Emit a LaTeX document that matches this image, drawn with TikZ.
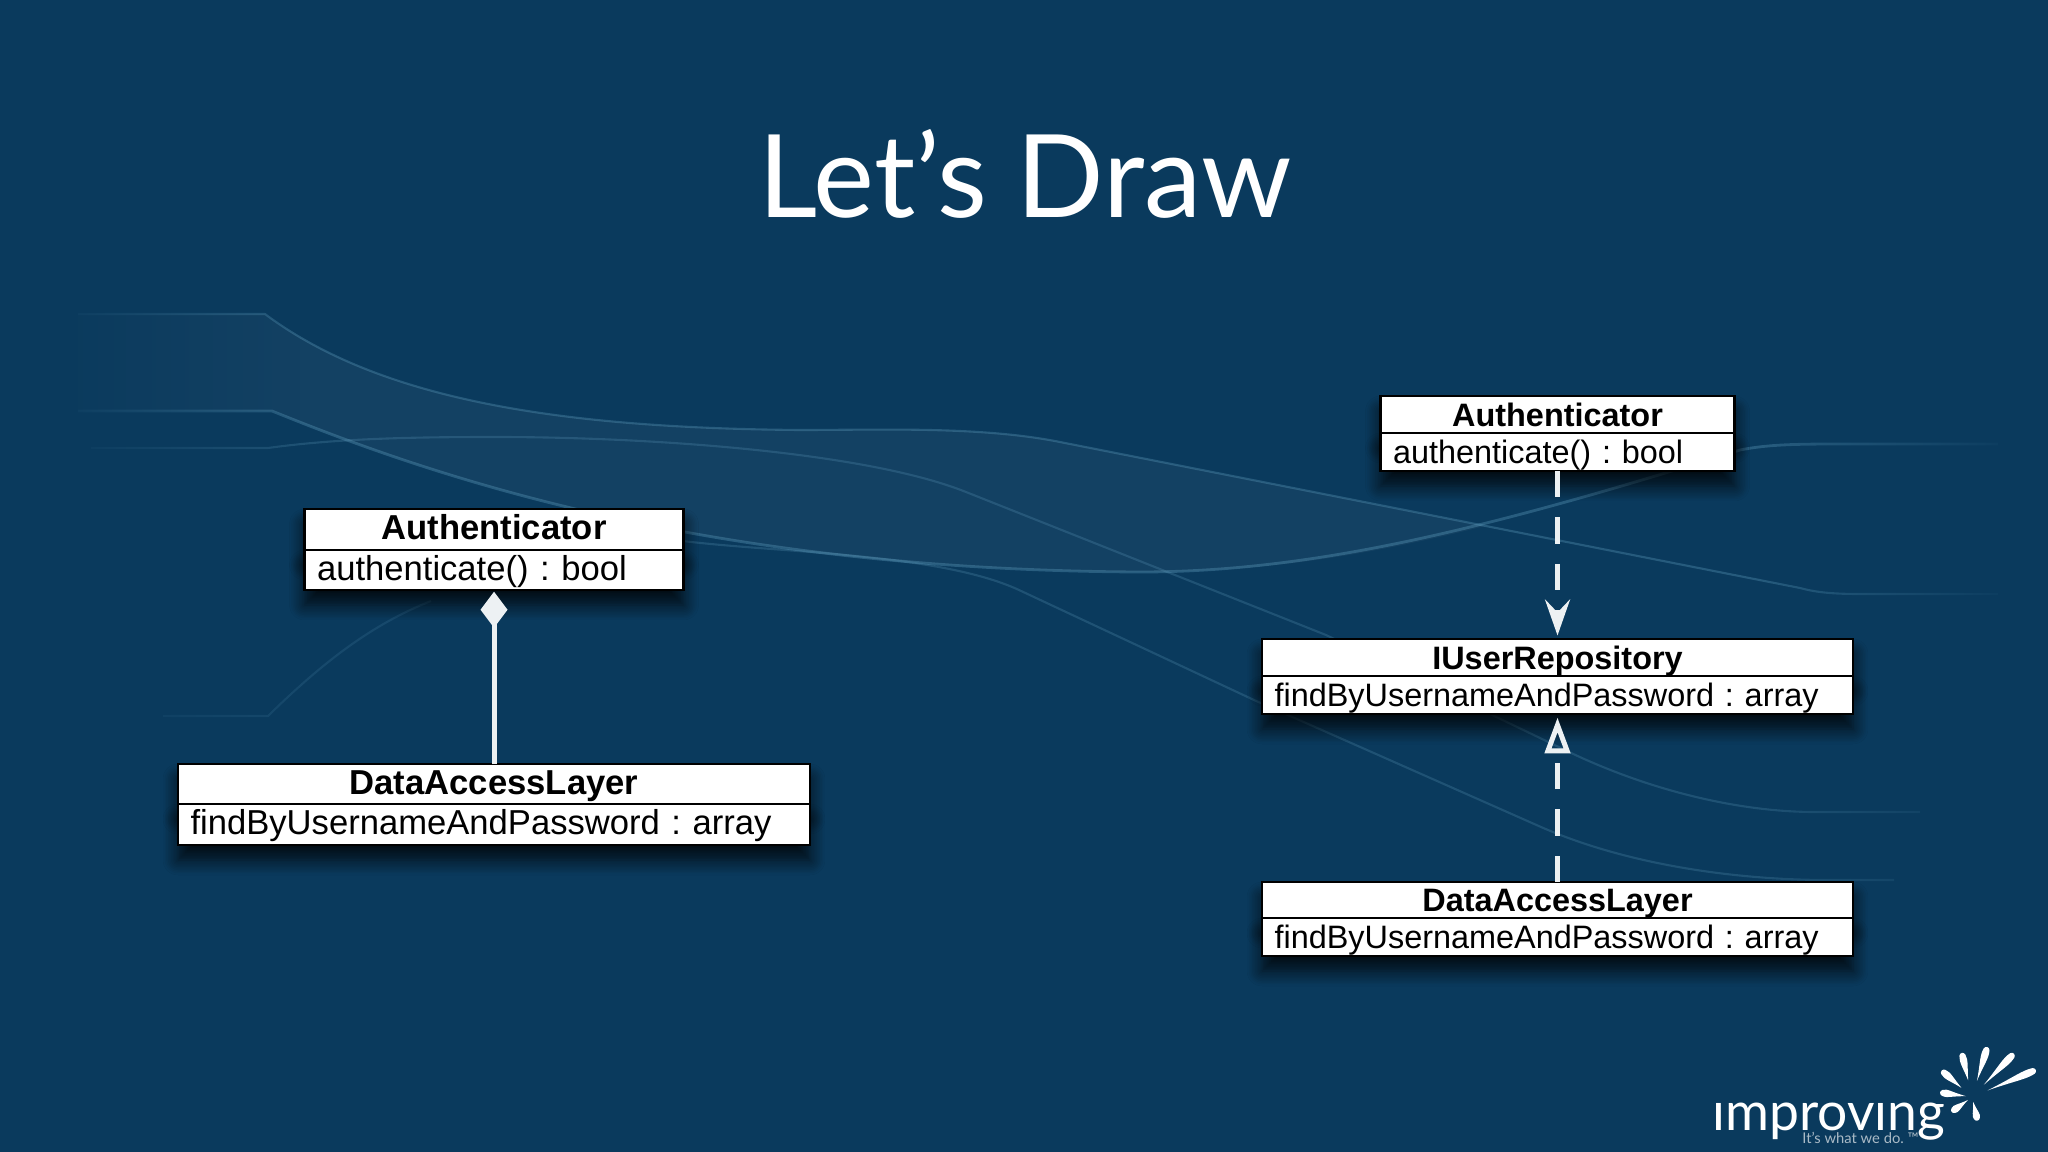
\documentclass[tikz,border=0pt]{standalone}
\usepackage{fontspec}
\setmainfont{Liberation Sans}
\newfontfamily\titlefont{Lato}
\usetikzlibrary{positioning,arrows.meta,shadows.blur,fadings}
\frenchspacing

\definecolor{slidebg}{HTML}{0A3A5D}
\definecolor{swoosh}{HTML}{6AA8C8}
\definecolor{umlline}{HTML}{EDF1F3}

\tikzset{
    classbox/.style={draw=black, fill=white, rectangle, line width=1.5pt, outer sep=0pt, text=black,
        blur shadow={shadow xshift=0pt, shadow yshift=-0.3cm, shadow blur radius=0.3cm, shadow blur steps=10, shadow opacity=80}},
    classhead/.style={classbox, inner sep=0pt, align=center, font=\fontsize{#1}{24}\selectfont\bfseries},
    classbody/.style={classbox, inner xsep=0.25cm, inner ysep=0pt, align=left, font=\fontsize{#1}{24}\selectfont},
    bigtext/.style={text height=0.54cm, text depth=0.13cm},
    smalltext/.style={text height=0.58cm, text depth=0.11cm},
    swooshline/.style={draw=swoosh, line width=1.2pt, opacity=0.3},
    umlarrow/.style={draw=umlline, line width=0.1cm},
    umldash/.style={umlarrow, dash pattern=on 0.53cm off 0.4cm}
}

\begin{document}
\begin{tikzpicture}[x=0.02cm, y=-0.02cm]
    % Slide background
    \fill[slidebg] (0,0) rectangle (2048,1152);
    \useasboundingbox (0,0) rectangle (2048,1152);

    % Swooshes behind the boxes
    \fill[white, opacity=0.04] (78,314) -- (265,314) .. controls (380,400) and (560,428) .. (800,430)
        .. controls (880,430) and (980,426) .. (1060,442) -- (1485,526)
        .. controls (1350,560) and (1250,572) .. (1140,572) .. controls (700,570) and (430,475) .. (272,411) -- (78,411) -- cycle;
    \draw[swooshline] (78,314) -- (265,314) .. controls (380,400) and (560,428) .. (800,430)
        .. controls (880,430) and (980,426) .. (1060,442) -- (1800,588) .. controls (1815,592) and (1830,594) .. (1860,594) -- (1998,594);
    \draw[swooshline, line width=1.6pt, opacity=0.32] (78,411) -- (272,411) .. controls (430,475) and (700,570) .. (1140,572)
        .. controls (1320,572) and (1500,525) .. (1740,450) .. controls (1770,444) and (1800,444) .. (1850,444) -- (1998,444);
    \draw[swooshline, opacity=0.22] (91,448) -- (268,448) .. controls (340,438) and (420,437) .. (496,437)
        .. controls (650,437) and (866,452) .. (966,492) -- (1326,635) -- (1567,751) .. controls (1650,791) and (1740,812) .. (1815,812) -- (1920,812);
    \draw[swooshline, opacity=0.22] (683,541) .. controls (780,553) and (939,553) .. (1019,590)
        -- (1254,700) -- (1541,827) .. controls (1630,866) and (1740,880) .. (1828,880) -- (1894,880);
    \draw[swooshline, opacity=0.14] (163,716) -- (268,716) .. controls (320,665) and (370,625) .. (431,601);

    % Soften the swoosh ends into the background
    \fill[slidebg, path fading=east] (40,280) rectangle (300,760);
    \fill[slidebg, path fading=west] (1760,400) rectangle (2030,920);

    % Title
    \node (title) [text=white, font=\titlefont\fontsize{65.6}{76}\selectfont] at (1025,174) {Let’s Draw};

    % Left diagram
    \node (authleft) [classhead=19.7, bigtext, minimum width=7.58cm, minimum height=0.82cm] at (494,529.5) {Authenticator};
    \node (authleftops) [classbody=19.7, bigtext, text width=7.08cm, minimum height=0.8cm, below=0pt of authleft] {authenticate() : bool};
    \node (dataleft) [classhead=19.7, bigtext, minimum width=12.64cm, minimum height=0.8cm] at (494,784) {DataAccessLayer};
    \node (dataleftops) [classbody=19.7, bigtext, text width=12.14cm, minimum height=0.82cm, below=0pt of dataleft] {findByUsernameAndPassword : array};

    % Right diagram
    \node (authright) [classhead=18.45, smalltext, minimum width=7.08cm, minimum height=0.74cm] at (1557.5,414.5) {Authenticator};
    \node (authrightops) [classbody=18.45, smalltext, text width=6.58cm, minimum height=0.76cm, below=0pt of authright] {authenticate() : bool};
    \node (repo) [classhead=18.45, smalltext, minimum width=11.82cm, minimum height=0.74cm] at (1557.5,657.5) {IUserRepository};
    \node (repoops) [classbody=18.45, smalltext, text width=11.32cm, minimum height=0.76cm, below=0pt of repo] {findByUsernameAndPassword : array};
    \node (dataright) [classhead=18.45, smalltext, minimum width=11.82cm, minimum height=0.72cm] at (1557.5,900) {DataAccessLayer};
    \node (datarightops) [classbody=18.45, smalltext, text width=11.32cm, minimum height=0.76cm, below=0pt of dataright] {findByUsernameAndPassword : array};

    % Arrows
    \draw[umlarrow, -{Diamond[fill=umlline, length=0.72cm, width=0.54cm]}, shorten >=1pt] (dataleft.north) -- (authleftops.south);
    \draw[umldash, -{Stealth[inset=0.26cm, length=0.72cm, width=0.5cm]}, shorten >=2pt] (authrightops.south) -- (repo.north);
    \draw[umldash, -{Triangle[open, length=0.72cm, width=0.5cm, line width=0.1cm]}, shorten >=0.07cm] (dataright.north) -- (repoops.south);

    % Logo
    \node (logotext) [anchor=base west, inner sep=0pt, text depth=0pt, text=white, font=\titlefont\fontsize{30.4}{36}\selectfont] at (1712,1130) {ımprovıng};
    \node (logotag) [anchor=base west, inner sep=0pt, text=white, opacity=0.65, font=\titlefont\fontsize{8.4}{10}\selectfont] at (1802,1143) {It’s what we do. ™};
    \foreach \ang/\rin/\rout in {103/17/43, 73/17/50, 46/17/58, 23/17/67, 139/14/38, 172/6/30, 216/5/23, 283/5/22} {
        \fill[white, shift={(1972,1097)}, rotate=\ang] (\rin,0) .. controls ({0.7*\rout},2) and ({0.85*\rout},5) .. (\rout,3)
            .. controls ({\rout+3},2) and ({\rout+3},-2) .. (\rout,-3)
            .. controls ({0.85*\rout},-5) and ({0.7*\rout},-2) .. (\rin,0);
    }
\end{tikzpicture}
\end{document}
